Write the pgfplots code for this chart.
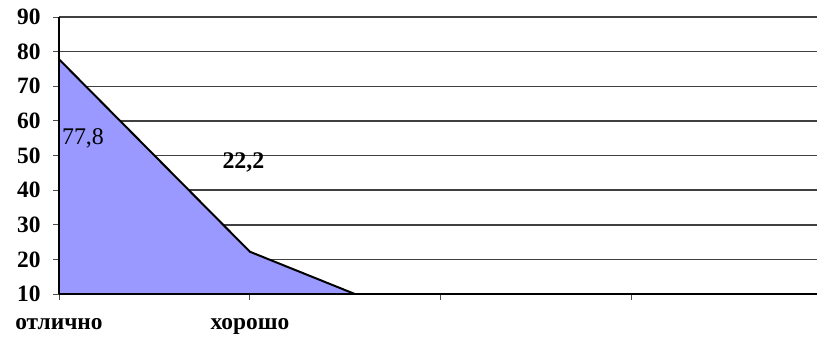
\documentclass[border=0pt]{standalone}
\usepackage{pgfplots}
\pgfplotsset{compat=1.18}
\usepackage{fontspec}
\setmainfont{Liberation Serif}
\definecolor{areafill}{HTML}{9999FF}
\begin{document}
\begin{tikzpicture}[x=1bp,y=1bp]
\useasboundingbox (0,0) rectangle (817,337);
\begin{axis}[
  at={(59bp,43bp)}, anchor=south west,
  scale only axis,
  width=758bp, height=277bp,
  xmin=0, xmax=3.97,
  ymin=10, ymax=90,
  ytick={10,20,...,90},
  xtick={0,1,2,3},
  xticklabels={отлично,хорошо,,},
  axis x line*=bottom,
  axis y line*=left,
  x axis line style={line width=2.2bp,-},
  y axis line style={line width=1.5bp,-},
  tick align=outside,
  major tick length=6bp,
  tick style={black!70, line width=1bp},
  ymajorgrids,
  grid style={line width=1.5bp, black!75},
  /pgf/number format/assume math mode=true,
  tick label style={font=\fontsize{23.5}{26}\selectfont\bfseries},
  yticklabel style={xshift=-9bp},
  xticklabel style={yshift=-15bp},
  clip=true,
]
\addplot[fill=areafill, draw=none] coordinates {(0,77.8) (1,22.2) (2,0) (3,0) (4,0)} \closedcycle;
\addplot[black, line width=2bp] coordinates {(0,77.8) (1,22.2) (2,0) (3,0) (4,0)};
\draw[line width=2.2bp] (rel axis cs:0,0) -- (rel axis cs:1,0);
\draw[line width=1.5bp] (rel axis cs:0,0) -- (rel axis cs:0,1);
\node[anchor=west, font=\fontsize{24}{26}\selectfont, inner sep=0pt] at (axis cs:0.015,55) {77,8};
\node[font=\fontsize{24}{26}\selectfont\bfseries, inner sep=0pt] at (axis cs:0.966,48.1) {22,2};
\end{axis}
\end{tikzpicture}
\end{document}
